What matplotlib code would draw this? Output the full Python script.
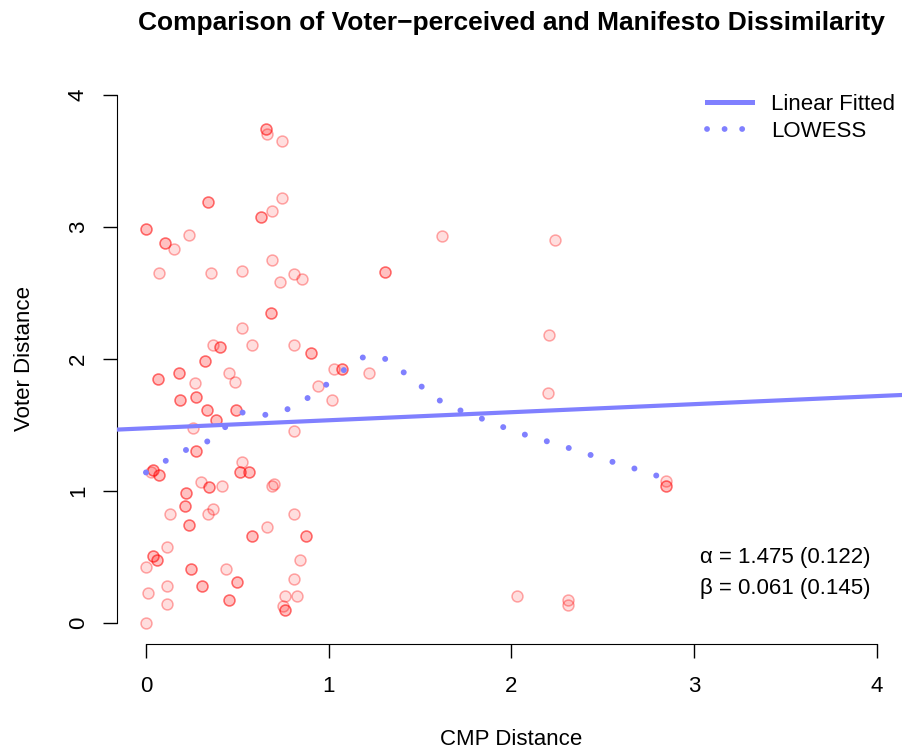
import numpy as np
import matplotlib
matplotlib.use('Agg')
import matplotlib.pyplot as plt
from matplotlib.lines import Line2D

plt.rcParams['font.family'] = ['Liberation Sans', 'DejaVu Sans']

# observations (repeated rows are real duplicates, they show up darker)
cmp_dist = [0.655, 0.655, 0.660, 0.746, 0.339, 0.339, 0.746, 0.628, 0.628, 0.689,
            0.0, 0.0, 0.106, 0.106, 0.155, 0.235, 0.071, 0.354, 0.525, 0.689,
            0.732, 0.808, 0.852, 0.686, 0.686, 0.525, 0.367, 0.405, 0.405, 0.580,
            0.810, 0.905, 0.905, 0.321, 0.321, 0.181, 0.181, 0.066, 0.066, 0.268,
            0.454, 0.487, 1.030, 1.073, 1.073, 1.219, 0.943, 1.019, 0.186, 0.186,
            0.272, 0.272, 0.336, 0.336, 0.491, 0.491, 0.385, 0.385, 0.257, 0.810,
            0.274, 0.274, 0.527, 0.037, 0.037, 0.029, 0.069, 0.069, 0.516, 0.516,
            0.564, 0.564, 0.303, 0.345, 0.345, 0.418, 0.700, 0.691, 0.221, 0.221,
            0.213, 0.213, 0.130, 0.368, 0.341, 0.810, 0.237, 0.237, 0.662, 0.578,
            0.578, 0.874, 0.874, 0.117, 0.037, 0.037, 0.058, 0.058, 0.0, 0.245,
            0.245, 0.438, 0.843, 0.496, 0.496, 0.308, 0.308, 0.117, 0.810, 0.011,
            0.117, 0.452, 0.452, 0.762, 0.825, 0.748, 0.762, 0.762, 0.0, 1.621,
            1.309, 1.309, 2.240, 2.205, 2.200, 2.844, 2.844, 2.844, 2.032, 2.311,
            2.311]
voter_dist = [3.737, 3.737, 3.700, 3.647, 3.186, 3.186, 3.217, 3.073, 3.073, 3.117,
              2.980, 2.980, 2.877, 2.877, 2.831, 2.935, 2.653, 2.653, 2.665, 2.751,
              2.579, 2.640, 2.609, 2.350, 2.350, 2.236, 2.104, 2.089, 2.089, 2.104,
              2.104, 2.042, 2.042, 1.986, 1.986, 1.893, 1.893, 1.847, 1.847, 1.820,
              1.893, 1.822, 1.921, 1.921, 1.921, 1.893, 1.797, 1.691, 1.691, 1.691,
              1.711, 1.711, 1.612, 1.612, 1.612, 1.612, 1.537, 1.537, 1.481, 1.451,
              1.300, 1.300, 1.219, 1.158, 1.158, 1.141, 1.123, 1.123, 1.141, 1.141,
              1.141, 1.141, 1.065, 1.030, 1.030, 1.037, 1.055, 1.037, 0.982, 0.982,
              0.886, 0.886, 0.830, 0.863, 0.828, 0.830, 0.740, 0.740, 0.727, 0.659,
              0.659, 0.659, 0.659, 0.573, 0.505, 0.505, 0.480, 0.480, 0.427, 0.409,
              0.409, 0.412, 0.480, 0.310, 0.310, 0.278, 0.278, 0.278, 0.333, 0.227,
              0.144, 0.179, 0.179, 0.207, 0.207, 0.132, 0.096, 0.096, 0.0, 2.933,
              2.660, 2.660, 2.902, 2.185, 1.744, 1.080, 1.037, 1.037, 0.207, 0.179,
              0.139]

# linear fit coefficients (se in brackets)
alpha, alpha_se = 1.475, 0.122
beta, beta_se = 0.061, 0.145

# lowess curve
lowess_x = [0.0, 0.108, 0.219, 0.335, 0.431, 0.525, 0.646, 0.768, 0.879, 0.981,
            1.078, 1.180, 1.295, 1.397, 1.496, 1.592, 1.706, 1.822, 1.937, 2.057,
            2.179, 2.300, 2.420, 2.541, 2.661, 2.780, 2.844]
lowess_y = [1.141, 1.229, 1.311, 1.375, 1.481, 1.595, 1.575, 1.615, 1.699, 1.799,
            1.911, 2.011, 2.014, 1.913, 1.805, 1.696, 1.618, 1.557, 1.493, 1.434,
            1.383, 1.332, 1.279, 1.226, 1.176, 1.123, 1.095]

fig = plt.figure(figsize=(9.02, 7.55), dpi=100)
ax = fig.add_axes([0.1294, 0.1466, 0.8753, 0.7559])

ax.scatter(cmp_dist, voter_dist, s=62, facecolor=(1, 0, 0, 0.13),
           edgecolor=(1, 0, 0, 0.33), linewidth=1.1, zorder=2)

xx = np.array([-0.2, 4.2])
blue = (0.5, 0.5, 1.0)
ax.plot(xx, alpha + beta * xx, color=blue, lw=3, zorder=3, solid_capstyle='butt')
dots, = ax.plot(lowess_x, lowess_y, color=blue, lw=4.3, zorder=3,
                dash_capstyle='round')
dots.set_dashes([0.01, 3.83])

ax.set_xlim(-0.16, 4.16)
ax.set_ylim(-0.16, 4.16)
for s in ['top', 'right']:
    ax.spines[s].set_visible(False)
ax.spines['left'].set_bounds(0, 4)
ax.spines['bottom'].set_bounds(0, 4)
ax.set_xticks([0, 1, 2, 3, 4])
ax.set_yticks([0, 1, 2, 3, 4])
ax.tick_params(length=10, width=1, labelsize=16)
ax.tick_params(axis='x', pad=13)
ax.tick_params(axis='y', pad=10)
plt.setp(ax.get_yticklabels(), rotation=90, va='center')

ax.set_xlabel('CMP Distance', fontsize=16, labelpad=23)
ax.set_ylabel('Voter Distance', fontsize=16, labelpad=24)
fig.suptitle('Comparison of Voter\u2212perceived and Manifesto Dissimilarity',
             x=0.5665, y=0.985, fontsize=19, fontweight='bold')

ax.text(3.5, 0.5, '\u03b1 = %.3f (%.3f)' % (alpha, alpha_se), fontsize=16,
        ha='center', va='center')
ax.text(3.5, 0.26, '\u03b2 = %.3f (%.3f)' % (beta, beta_se), fontsize=16,
        ha='center', va='center')

handles = [Line2D([], [], color=blue, lw=3.6),
           Line2D([], [], color=blue, lw=4.2, dashes=[0.01, 3.0],
                  dash_capstyle='round')]
ax.legend(handles, ['Linear Fitted', 'LOWESS'], loc='upper right', frameon=False,
          fontsize=16, handlelength=2.0, handletextpad=0.85, labelspacing=0.25,
          bbox_to_anchor=(1.014, 0.902), bbox_transform=fig.transFigure)

fig.savefig('out.png', dpi=100)
